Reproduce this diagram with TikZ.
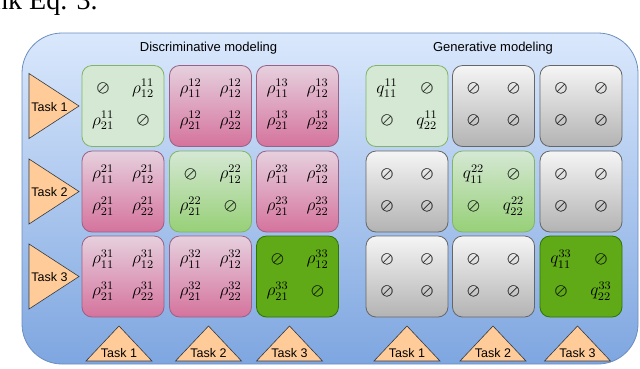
\documentclass[tikz,border=0pt]{standalone}
\usepackage[no-math]{fontspec}
\usepackage{graphicx}
\setmainfont{Liberation Sans}
\newfontfamily\paperserif{Liberation Serif}
\definecolor{bgT}{HTML}{DAE8FC}
\definecolor{bgB}{HTML}{7EA6E0}
\definecolor{bgS}{HTML}{6C8EBF}
\definecolor{pkT}{HTML}{E6D0DE}
\definecolor{pkB}{HTML}{D5739D}
\definecolor{pkS}{HTML}{996185}
\definecolor{gnL}{HTML}{D5E8D4}
\definecolor{gnB}{HTML}{97D077}
\definecolor{gnS}{HTML}{82B366}
\definecolor{dgF}{HTML}{60A917}
\definecolor{dgS}{HTML}{2D7600}
\definecolor{gyT}{HTML}{F5F5F5}
\definecolor{gyB}{HTML}{B3B3B3}
\definecolor{gyS}{HTML}{666666}
\definecolor{orF}{HTML}{FFCC99}
\definecolor{orS}{HTML}{36393D}
\tikzset{
  cellbox/.style={rounded corners=10pt, minimum width=82pt, minimum height=81pt, inner sep=0pt, line width=0.8pt},
  pinkbox/.style={cellbox, draw=pkS, top color=pkT, bottom color=pkB},
  lgreenbox/.style={cellbox, draw=gnS, fill=gnL},
  ggreenbox/.style={cellbox, draw=gnS, top color=gnL, bottom color=gnB},
  dgreenbox/.style={cellbox, draw=dgS, fill=dgF},
  graybox/.style={cellbox, draw=gyS, top color=gyT, bottom color=gyB},
  entry/.style={inner sep=0pt, font=\large},
  tri/.style={draw=orS, fill=orF, line width=0.6pt, line join=miter},
  tasklabel/.style={inner sep=0pt, font=\fontsize{12.5}{14}\selectfont},
  heading/.style={inner sep=0pt, font=\fontsize{13}{15}\selectfont},
}
\newcommand{\cellmath}[1]{\scalebox{1.45}{$#1$}}
\newcommand{\emp}{\scalebox{0.95}{\rlap{$\oslash$}\hspace{0.3pt}$\oslash$}}
\newcommand{\fourentries}[5]{%
  \node[entry] (#1-a) at ([shift={(-20,-17.5)}]#1.center) {\cellmath{#2}};
  \node[entry] (#1-b) at ([shift={(20,-17.5)}]#1.center) {\cellmath{#3}};
  \node[entry] (#1-c) at ([shift={(-20,14.5)}]#1.center) {\cellmath{#4}};
  \node[entry] (#1-d) at ([shift={(20,14.5)}]#1.center) {\cellmath{#5}};}
\begin{document}
\begin{tikzpicture}[x=1pt,y=-1pt]
\useasboundingbox (0,0) rectangle (640,368);
\clip (0,0) rectangle (640,368);
\node[anchor=base west, inner sep=0pt, font=\paperserif\fontsize{28}{30}\selectfont] (frag) at (-6,9) {nk Eq. 3.};
% outer panel
\shade[draw=bgS, top color=bgT, bottom color=bgB, rounded corners=40pt, line width=0.8pt] (22,33) rectangle (638,364);
\node[heading] (disc) at (208.5,48) {Discriminative modeling};
\node[heading] (gen) at (493,48) {Generative modeling};
% discriminative boxes
\node[lgreenbox] (d11) at (123,106) {};
\node[pinkbox] (d12) at (210.5,106) {};
\node[pinkbox] (d13) at (297.5,106) {};
\node[pinkbox] (d21) at (123,191.5) {};
\node[ggreenbox] (d22) at (210.5,191.5) {};
\node[pinkbox] (d23) at (297.5,191.5) {};
\node[pinkbox] (d31) at (123,276.5) {};
\node[pinkbox] (d32) at (210.5,276.5) {};
\node[dgreenbox] (d33) at (297.5,276.5) {};
% generative boxes
\node[lgreenbox] (g11) at (407,106) {};
\node[graybox] (g12) at (493.5,106) {};
\node[graybox] (g13) at (581,106) {};
\node[graybox] (g21) at (407,191.5) {};
\node[ggreenbox] (g22) at (493.5,191.5) {};
\node[graybox] (g23) at (581,191.5) {};
\node[graybox] (g31) at (407,276.5) {};
\node[graybox] (g32) at (493.5,276.5) {};
\node[dgreenbox] (g33) at (581,276.5) {};
% entries
\fourentries{d11}{\emp}{\rho^{11}_{12}}{\rho^{11}_{21}}{\emp}
\fourentries{d12}{\rho^{12}_{11}}{\rho^{12}_{12}}{\rho^{12}_{21}}{\rho^{12}_{22}}
\fourentries{d13}{\rho^{13}_{11}}{\rho^{13}_{12}}{\rho^{13}_{21}}{\rho^{13}_{22}}
\fourentries{d21}{\rho^{21}_{11}}{\rho^{21}_{12}}{\rho^{21}_{21}}{\rho^{21}_{22}}
\fourentries{d22}{\emp}{\rho^{22}_{12}}{\rho^{22}_{21}}{\emp}
\fourentries{d23}{\rho^{23}_{11}}{\rho^{23}_{12}}{\rho^{23}_{21}}{\rho^{23}_{22}}
\fourentries{d31}{\rho^{31}_{11}}{\rho^{31}_{12}}{\rho^{31}_{21}}{\rho^{31}_{22}}
\fourentries{d32}{\rho^{32}_{11}}{\rho^{32}_{12}}{\rho^{32}_{21}}{\rho^{32}_{22}}
\fourentries{d33}{\emp}{\rho^{33}_{12}}{\rho^{33}_{21}}{\emp}
\fourentries{g11}{q^{11}_{11}}{\emp}{\emp}{q^{11}_{22}}
\fourentries{g12}{\emp}{\emp}{\emp}{\emp}
\fourentries{g13}{\emp}{\emp}{\emp}{\emp}
\fourentries{g21}{\emp}{\emp}{\emp}{\emp}
\fourentries{g22}{q^{22}_{11}}{\emp}{\emp}{q^{22}_{22}}
\fourentries{g23}{\emp}{\emp}{\emp}{\emp}
\fourentries{g31}{\emp}{\emp}{\emp}{\emp}
\fourentries{g32}{\emp}{\emp}{\emp}{\emp}
\fourentries{g33}{q^{33}_{11}}{\emp}{\emp}{q^{33}_{22}}
% left triangles
\foreach \cy/\k in {106/1,191.5/2,276.5/3}{
  \draw[tri] (29,\cy-32.5) -- (79,\cy) -- (29,\cy+32.5) -- cycle;
  \node[tasklabel] (lt\k) at (49.5,\cy+1) {Task \k};
}
% bottom triangles
\foreach \cx/\k/\n in {119/1/a,208.5/2/b,289.5/3/c,407/1/d,493/2/e,577.5/3/f}{
  \draw[tri] (\cx-33,361) -- (\cx,326) -- (\cx+33,361) -- cycle;
  \node[tasklabel] (bt\n) at (\cx,353) {Task \k};
}
\end{tikzpicture}
\end{document}
